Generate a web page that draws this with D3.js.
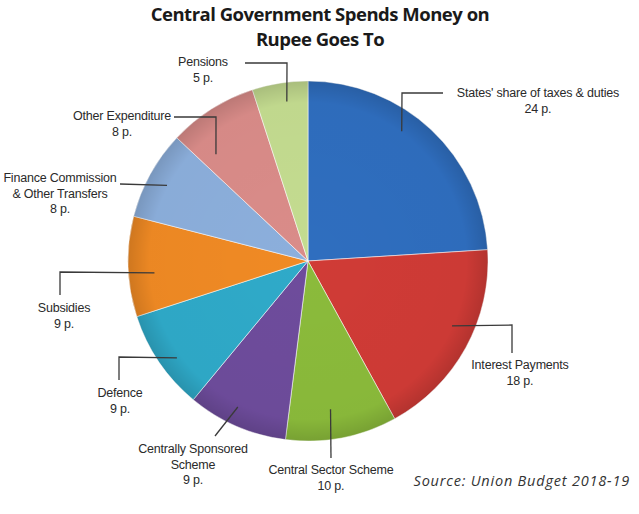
<!DOCTYPE html>
<html>
<head>
<meta charset="utf-8">
<script src="https://cdn.jsdelivr.net/npm/d3@7"></script>
<style>
  html, body { margin: 0; padding: 0; background: #fff; }
  svg { display: block; }
</style>
</head>
<body>
<svg id="chart" width="639" height="514"></svg>
<script>
// ---- data ----
const categories = [
  "States' share of taxes & duties",
  "Interest Payments",
  "Central Sector Scheme",
  "Centrally Sponsored Scheme",
  "Defence",
  "Subsidies",
  "Finance Commission & Other Transfers",
  "Other Expenditure",
  "Pensions"
];
const values = [24, 18, 10, 9, 9, 9, 8, 8, 5];
const labelLines = [
  ["States' share of taxes & duties", "24 p."],
  ["Interest Payments", "18 p."],
  ["Central Sector Scheme", "10 p."],
  ["Centrally Sponsored", "Scheme", "9 p."],
  ["Defence", "9 p."],
  ["Subsidies", "9 p."],
  ["Finance Commission", "& Other Transfers", "8 p."],
  ["Other Expenditure", "8 p."],
  ["Pensions", "5 p."]
];
const titleLines = ["Central Government Spends Money on", "Rupee Goes To"];
const sourceText = "Source: Union Budget 2018-19";

// ---- styles / layout ----
const colors = ["#2f6ebf", "#d03b36", "#8bbb3b", "#6e4c9c", "#2faac9", "#f08a24", "#8cafdc", "#da8c89", "#c4dc90"];
const cx = 308, cy = 261, R = 180;
// leader layout: t = fraction along slice angle, r = radius of anchor, pts = elbow/end points, text position
const leaderLayout = [
  { t: 0.415, r: 160, pts: [[402, 93], [443, 93]], tx: 538, ty: 97 },
  { t: 0.43, r: 158, pts: [[512, 325], [512, 353]], tx: 520, ty: 369 },
  { t: 0.56, r: 150, pts: [[331, 458]], tx: 331, ty: 474 },
  { t: 0.57, r: 162, pts: [[215, 436]], tx: 193, ty: 453 },
  { t: 0.43, r: 163, pts: [[119, 357], [119, 380]], tx: 120, ty: 397 },
  { t: 0.42, r: 154, pts: [[60, 272], [60, 295]], tx: 64, ty: 312 },
  { t: 0.48, r: 160, pts: [[120, 184]], tx: 60, ty: 182 },
  { t: 0.21, r: 141, pts: [[216, 117], [174, 117]], tx: 122, ty: 120 },
  { t: 0.58, r: 161, pts: [[287, 63], [245, 63]], tx: 203, ty: 66 }
];

const svg = d3.select("#chart");
const defs = svg.append("defs");

// shading gradient
const rg = defs.append("radialGradient").attr("id", "shade")
  .attr("gradientUnits", "userSpaceOnUse").attr("cx", cx).attr("cy", cy).attr("r", R);
rg.append("stop").attr("offset", "0%").attr("stop-color", "#000").attr("stop-opacity", 0);
rg.append("stop").attr("offset", "88%").attr("stop-color", "#000").attr("stop-opacity", 0.02);
rg.append("stop").attr("offset", "100%").attr("stop-color", "#000").attr("stop-opacity", 0.14);

// title
svg.append("g").selectAll("text").data(titleLines).join("text")
  .attr("x", 320).attr("y", (d, i) => 21 + i * 25)
  .attr("text-anchor", "middle")
  .attr("font-family", "'Open Sans', sans-serif")
  .attr("font-weight", 700)
  .attr("font-size", 18.5)
  .attr("letter-spacing", -0.5)
  .attr("fill", "#1a1a1a")
  .text(d => d);

// pie
const pie = d3.pie().sort(null).value(d => d)(values);
const arc = d3.arc().innerRadius(0).outerRadius(R);
const g = svg.append("g").attr("transform", `translate(${cx},${cy})`);
g.selectAll("path.slice").data(pie).join("path")
  .attr("class", "slice")
  .attr("d", arc)
  .attr("fill", (d, i) => colors[i])
  .attr("stroke", "rgba(255,255,255,0.55)")
  .attr("stroke-width", 1);
svg.append("circle").attr("cx", cx).attr("cy", cy).attr("r", R).attr("fill", "url(#shade)");

// leader lines
const line = d3.line();
pie.forEach((d, i) => {
  const L = leaderLayout[i];
  const a = d.startAngle + L.t * (d.endAngle - d.startAngle);
  const p0 = [cx + L.r * Math.sin(a), cy - L.r * Math.cos(a)];
  svg.append("path")
    .attr("d", line([p0, ...L.pts]))
    .attr("fill", "none")
    .attr("stroke", "#3a3a3a")
    .attr("stroke-width", 1.3);
});

// labels
const lab = svg.append("g")
  .attr("font-family", "'Liberation Sans', Arial, sans-serif")
  .attr("font-size", 12.5)
  .attr("letter-spacing", -0.2)
  .attr("fill", "#2a2a2a")
  .attr("text-anchor", "middle");
labelLines.forEach((lines, i) => {
  const L = leaderLayout[i];
  lines.forEach((s, j) => {
    lab.append("text").attr("x", L.tx).attr("y", L.ty + j * 15.5).text(s);
  });
});

// source
svg.append("text")
  .attr("x", 630).attr("y", 486)
  .attr("text-anchor", "end")
  .attr("font-family", "'Open Sans', sans-serif")
  .attr("font-style", "italic")
  .attr("font-size", 14.5)
  .attr("letter-spacing", 0.8)
  .attr("fill", "#333")
  .text(sourceText);
</script>
</body>
</html>
